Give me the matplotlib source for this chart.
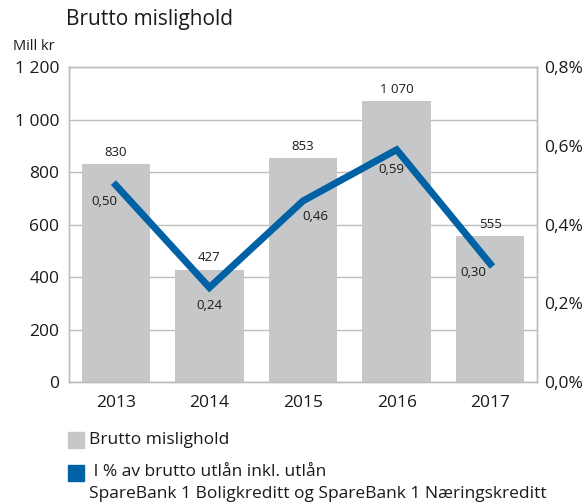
import matplotlib.pyplot as plt
from matplotlib.patches import Rectangle

# fonts
plt.rcParams['font.family'] = ['Open Sans', 'DejaVu Sans']

# data
years = ['2013', '2014', '2015', '2016', '2017']
mislighold = [830, 427, 853, 1070, 555]
pctUtlan = [0.50, 0.24, 0.46, 0.59, 0.30]

barLabels = ['830', '427', '853', '1 070', '555']
pctLabels = ['0,50', '0,24', '0,46', '0,59', '0,30']
leftTicks = [0, 200, 400, 600, 800, 1000, 1200]
leftTickLabels = ['0', '200', '400', '600', '800', '1 000', '1 200']
rightTicks = [0.0, 0.2, 0.4, 0.6, 0.8]
rightTickLabels = ['0,0%', '0,2%', '0,4%', '0,6%', '0,8%']

# label offsets for the percent labels (points)
pctOffsets = [(-8, -12), (0, -13), (9, -11), (-4, -14), (-12, -6)]

barColor = '#c6c7c8'
lineColor = '#0061a4'
gridColor = '#bdbdbd'
textColor = '#1a1a1a'

fig = plt.figure(figsize=(5.87, 5.04), dpi=100)
ax = fig.add_axes([0.1175, 0.242, 0.7975, 0.625])
x = list(range(len(years)))

ax.bar(x, mislighold, width=0.73, color=barColor, zorder=2)
ax.set_ylim(0, 1200)
ax.set_xlim(-0.5, 4.5)
ax.set_yticks(leftTicks)
ax.set_yticklabels(leftTickLabels)
ax.set_xticks(x)
ax.set_xticklabels(years)
ax.yaxis.grid(True, color=gridColor, linewidth=1.0, zorder=0)
ax.set_axisbelow(True)
ax.tick_params(length=0, labelsize=12.5, colors=textColor)
ax.tick_params(axis='y', pad=7)
ax.tick_params(axis='x', pad=9)
for s in ax.spines.values():
    s.set_color(gridColor)
    s.set_linewidth(1.0)

for xi, v, lab in zip(x, mislighold, barLabels):
    ax.annotate(lab, (xi, v), xytext=(0, 4), textcoords='offset points',
                ha='center', va='bottom', fontsize=9.5, color=textColor)

ax2 = ax.twinx()
ax2.plot(x, pctUtlan, color=lineColor, linewidth=5, solid_joinstyle='miter', zorder=3)
ax2.set_ylim(0, 0.8)
ax2.set_yticks(rightTicks)
ax2.set_yticklabels(rightTickLabels)
ax2.tick_params(length=0, labelsize=12.5, colors=textColor, pad=5)
for s in ax2.spines.values():
    s.set_color(gridColor)
    s.set_linewidth(1.0)

for xi, v, lab, off in zip(x, pctUtlan, pctLabels, pctOffsets):
    ax2.annotate(lab, (xi, v), xytext=off, textcoords='offset points',
                 ha='center', va='center', fontsize=9.5, color=textColor)

# title and unit
fig.text(66/587, 1 - 20/504, 'Brutto mislighold', fontsize=15, color=textColor,
         ha='left', va='center')
fig.text(13/587, 1 - 46/504, 'Mill kr', fontsize=10.5, color=textColor,
         ha='left', va='center')

# legend
fig.patches.append(Rectangle((68/587, 1 - 448/504), 16/587, 16/504,
                             transform=fig.transFigure, color=barColor))
fig.text(89/587, 1 - 440/504, 'Brutto mislighold', fontsize=12.5, color=textColor,
         ha='left', va='center')
fig.patches.append(Rectangle((68/587, 1 - 481/504), 16/587, 16/504,
                             transform=fig.transFigure, color=lineColor))
fig.text(89/587, 1 - 472/504, ' I % av brutto utlån inkl. utlån', fontsize=12.5,
         color=textColor, ha='left', va='center')
fig.text(89/587, 1 - 494/504, 'SpareBank 1 Boligkreditt og SpareBank 1 Næringskreditt',
         fontsize=12.5, color=textColor, ha='left', va='center')

plt.savefig('out.png', dpi=100)
